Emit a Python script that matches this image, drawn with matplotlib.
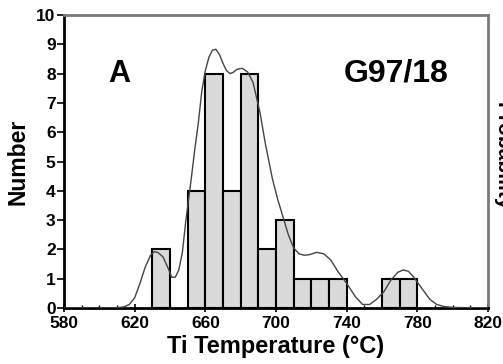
import matplotlib
matplotlib.use("Agg")
import matplotlib.pyplot as plt
from matplotlib.ticker import MultipleLocator, FixedLocator

plt.rcParams['font.family'] = ['Liberation Sans', 'DejaVu Sans']

# Histogram of Ti-in-zircon temperatures (10 °C bins)
bin_left = [630, 650, 660, 670, 680, 690, 700, 710, 720, 730, 760, 770]
counts = [2, 4, 8, 4, 8, 2, 3, 1, 1, 1, 1, 1]
bin_width = 10
x_ticks = [580, 620, 660, 700, 740, 780, 820]

# Relative probability curve, scaled to the Number axis
curve_t = [580, 600, 610, 614, 617, 620, 623, 626, 629, 631, 633, 636, 639,
           641, 643, 645, 647, 649, 652, 654, 656, 658, 660, 662, 664, 666,
           668, 670, 672, 674, 676, 678, 681, 684, 687, 691, 694, 698, 701,
           704, 707, 710, 713, 716, 719, 723, 727, 731, 735, 740, 745, 749,
           753, 757, 761, 765, 769, 772, 775, 778, 781, 784, 787, 791, 795,
           800, 820]
curve_p = [0, 0, 0.01, 0.04, 0.12, 0.35, 0.84, 1.4, 1.8, 1.92, 1.9, 1.75, 1.35,
           1.05, 1.05, 1.3, 1.9, 3.0, 4.4, 5.4, 6.3, 7.4, 8.1, 8.55, 8.8, 8.83,
           8.65, 8.35, 8.1, 8.0, 8.05, 8.15, 8.18, 8.05, 7.7, 6.65, 5.6, 4.4, 3.7,
           3.1, 2.5, 2.05, 1.85, 1.8, 1.82, 1.9, 1.85, 1.64, 1.25, 0.84, 0.38,
           0.12, 0.12, 0.3, 0.55, 0.95, 1.22, 1.3, 1.25, 1.05, 0.8, 0.55, 0.3,
           0.12, 0.05, 0.02, 0]

fig = plt.figure(figsize=(5.03, 3.64), dpi=100)
ax = fig.add_axes([64 / 503, 1 - 308 / 364, (488 - 64) / 503, (308 - 15) / 364])

ax.bar(bin_left, counts, width=bin_width, align='edge', color='#dadada',
       edgecolor='black', linewidth=1.5, zorder=2)
ax.plot(curve_t, curve_p, color='#444444', linewidth=1.0, zorder=3)

ax.set_xlim(580, 820)
ax.set_ylim(0, 10)
ax.xaxis.set_major_locator(FixedLocator(x_ticks))
ax.xaxis.set_minor_locator(MultipleLocator(10))
ax.yaxis.set_major_locator(MultipleLocator(1))

for side in ('left', 'bottom'):
    ax.spines[side].set_linewidth(2)
    ax.spines[side].set_color('black')
for side in ('top', 'right'):
    ax.spines[side].set_linewidth(2)
    ax.spines[side].set_color('#7a7a7a')

ax.tick_params(axis='y', direction='out', length=5, width=1.2, pad=1,
               labelsize=12.5)
ax.tick_params(axis='x', which='major', direction='inout', length=6, width=1.2,
               pad=3, labelsize=12.5)
ax.tick_params(axis='x', which='minor', direction='in', length=2, width=1)
for lab in ax.get_xticklabels() + ax.get_yticklabels():
    lab.set_fontweight('bold')

ax.set_xlabel('Ti Temperature (°C)', fontsize=17, fontweight='bold', labelpad=3)
ax.set_ylabel('Number', fontsize=16.5, fontweight='bold', labelpad=5)

ax.text(611, 8.0, 'A', fontsize=22, fontweight='bold', ha='center', va='center')
ax.text(768, 8.0, 'G97/18', fontsize=23, fontweight='bold', ha='center',
        va='center')

# Right-hand axis title, partly beyond the figure edge
fig.text(493 / 503, 1 - 102 / 364, 'Probability', rotation=270, fontsize=15,
         fontweight='bold', ha='left', va='top')

fig.savefig('out.png', dpi=100)
